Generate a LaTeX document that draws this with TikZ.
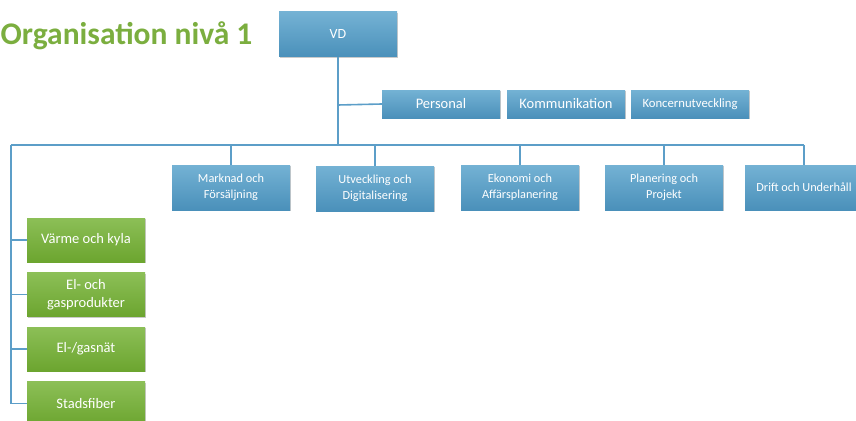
\documentclass[tikz,border=0pt]{standalone}
\usepackage{fontspec}
\setmainfont{Carlito}
\usetikzlibrary{shadows}
\definecolor{bluetop}{HTML}{74B2D4}
\definecolor{bluebot}{HTML}{4A90BA}
\definecolor{greentop}{HTML}{8CBF57}
\definecolor{greenbot}{HTML}{6CA52F}
\definecolor{linecol}{HTML}{5C9EC8}
\definecolor{titlecol}{HTML}{7BAE3F}
\tikzset{
  box/.style={rectangle, minimum width=118pt, inner sep=1pt, align=center,
    text=white, draw=none,
    drop shadow={shadow xshift=1pt, shadow yshift=-1.2pt, opacity=0.35, fill=black!60}},
  bluebox/.style={box, top color=bluetop, bottom color=bluebot},
  greenbox/.style={box, top color=greentop, bottom color=greenbot, minimum height=44pt,
    font=\fontsize{14.5}{18}\selectfont},
  rowtwo/.style={bluebox, minimum height=45pt, font=\fontsize{12.3}{16}\selectfont},
  rowone/.style={bluebox, minimum height=28pt},
  conn/.style={draw=linecol, line width=1.6pt}
}
\begin{document}
\begin{tikzpicture}[x=1pt,y=-1pt]
\useasboundingbox (0,0) rectangle (856,420);
\clip (0,0) rectangle (856,420);
\node[anchor=base west, text=titlecol, inner sep=0pt, font=\fontsize{31.5}{36}\selectfont\bfseries] (title) at (0.5,45) {Organisation nivå 1};
\node[bluebox, minimum height=45pt, font=\fontsize{14}{16}\selectfont] (vd) at (338,34.5) {VD};
\node[rowone, font=\fontsize{14.5}{16}\selectfont] (pers) at (441,104) {Personal};
\node[rowone, font=\fontsize{14.5}{16}\selectfont] (komm) at (566,104) {Kommunikation};
\node[rowone, font=\fontsize{12.7}{16}\selectfont] (konc) at (690,104) {Koncernutveckling};
\node[rowtwo] (mark) at (231,187.5) {Marknad och\\Försäljning};
\node[rowtwo] (utv) at (375,188.5) {Utveckling och\\Digitalisering};
\node[rowtwo] (eko) at (520,187.5) {Ekonomi och\\Affärsplanering};
\node[rowtwo] (plan) at (664,187.5) {Planering och\\Projekt};
\node[rowtwo] (drift) at (804,187.5) {Drift och Underhåll};
\node[greenbox] (varme) at (86,240) {Värme och kyla};
\node[greenbox] (elgas) at (86,294.5) {El- och\\gasprodukter};
\node[greenbox] (natet) at (86,349) {El-/gasnät};
\node[greenbox] (fiber) at (86,403.5) {Stadsfiber};
\coordinate (bus) at (338,145);
\coordinate (busleft) at (11,145);
\coordinate (stab) at (338,105);
\path[conn] (vd.south) -- (vd.south |- bus);
\path[conn] (stab) -- (pers.west);
\path[conn] (busleft) -- (drift.north |- bus);
\foreach \n in {mark,utv,eko,plan,drift}{
  \path[conn] (\n.north |- bus) -- (\n.north);
}
\path[conn] (busleft) -- (busleft |- fiber.west);
\foreach \n in {varme,elgas,natet,fiber}{
  \path[conn] (busleft |- \n.west) -- (\n.west);
}
\end{tikzpicture}
\end{document}
